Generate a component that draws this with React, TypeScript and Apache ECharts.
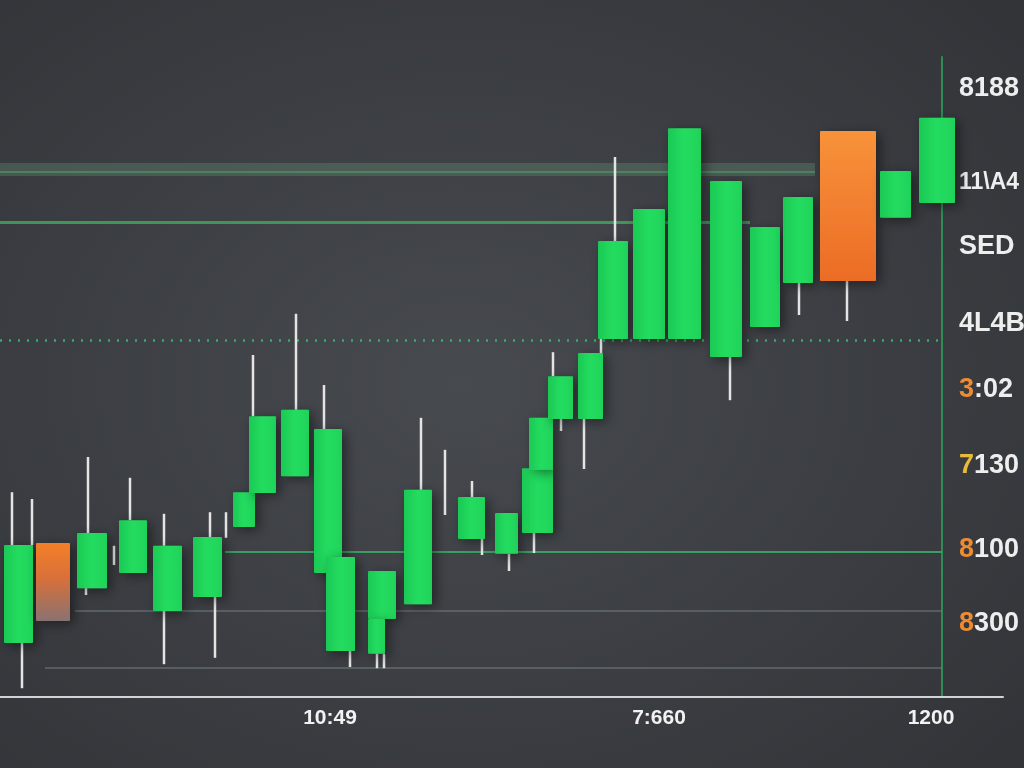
import React, { useEffect, useRef } from "react";
import * as echarts from "echarts";

// Candle bodies: [timeStart, timeEnd, open, close]
const candleBodies: number[][] = [
  [4, 33, 135, 380],
  [36, 70, 385, 190],
  [77, 107, 272, 410],
  [119, 147, 310, 442],
  [153, 182, 215, 378],
  [193, 222, 250, 400],
  [233, 255, 425, 512],
  [249, 276, 510, 702],
  [281, 309, 552, 718],
  [314, 342, 310, 670],
  [326, 355, 115, 350],
  [368, 396, 195, 315],
  [368, 385, 108, 195],
  [404, 432, 232, 518],
  [458, 485, 395, 500],
  [495, 518, 358, 460],
  [522, 553, 410, 572],
  [529, 553, 568, 698],
  [548, 573, 695, 802],
  [578, 603, 695, 860],
  [598, 628, 895, 1140],
  [633, 665, 895, 1220],
  [668, 701, 895, 1422],
  [710, 742, 850, 1290],
  [750, 780, 925, 1175],
  [783, 813, 1035, 1250],
  [820, 876, 1415, 1040],
  [880, 911, 1198, 1315],
  [919, 955, 1235, 1448],
];

// Wicks: [time, low, high]
const candleWicks: number[][] = [
  [12, 380, 512], [32, 380, 495], [22, 22, 135], [88, 410, 600], [86, 255, 272],
  [114, 330, 378], [130, 442, 548], [164, 378, 458], [164, 82, 215], [210, 400, 462],
  [215, 98, 250], [226, 398, 462], [253, 702, 855], [296, 718, 958], [324, 670, 780],
  [350, 75, 115], [377, 72, 108], [384, 72, 108], [421, 518, 698], [445, 455, 618],
  [472, 500, 540], [482, 355, 395], [509, 315, 358], [534, 360, 410], [553, 802, 862],
  [561, 665, 695], [584, 570, 695], [615, 1140, 1350], [601, 860, 895], [730, 742, 850],
  [799, 955, 1035], [847, 940, 1040],
];

// Index of the candle whose fill fades out
const fadedCandles = [1];

// Reference levels: [level, fromTime, toTime]
const glowLevel = [1320, 0, 815];
const glowEdgeLevel = [1312, 0, 815];
const greenLevel = [1188, 0, 750];
const dottedLevel = [892, 0, 942];
const supportLevel = [362, 225, 942];
const greyLevels = [
  [215, 75, 942],
  [72, 45, 942],
];

const yTickValues = [1525, 1290, 1130, 938, 772, 582, 372, 188];
const yTickTexts = ["8188", "11\\A4", "SED", "4L4B", "3:02", "7130", "8100", "8300"];
const yTickAccent = ["", "s", "", "", "o", "y", "o", "o"];

const xTickValues = [330, 659, 931];
const xTickTexts = ["10:49", "7:660", "1200"];

const FONT = "'Liberation Sans', Arial, sans-serif";

function seg(l: number[], lineStyle: any) {
  return [
    { coord: [l[1], l[0]], lineStyle },
    { coord: [l[2], l[0]] },
  ];
}

export default function App() {
  const ref = useRef<HTMLDivElement>(null);

  useEffect(() => {
    if (!ref.current) return;
    const chart = echarts.init(ref.current, null, { renderer: "svg" });

    const greenFill = new echarts.graphic.LinearGradient(0, 0, 1, 0, [
      { offset: 0, color: "#1dc955" },
      { offset: 0.5, color: "#22dc5f" },
      { offset: 1, color: "#1fd35a" },
    ]);
    const orangeFill = new echarts.graphic.LinearGradient(0, 0, 0, 1, [
      { offset: 0, color: "#f8923a" },
      { offset: 1, color: "#ec6c26" },
    ]);
    const fadedFill = new echarts.graphic.LinearGradient(0, 0, 0, 1, [
      { offset: 0, color: "#f57f27" },
      { offset: 0.45, color: "#d8703a" },
      { offset: 1, color: "#8a7272" },
    ]);

    const option: any = {
      animation: false,
      backgroundColor: {
        type: "radial",
        x: 0.45,
        y: 0.5,
        r: 0.85,
        colorStops: [
          { offset: 0, color: "#474a4f" },
          { offset: 1, color: "#2e3034" },
        ],
      },
      grid: { left: 0, right: 21, top: 57, bottom: 71, containLabel: false, outerBoundsMode: "none" },
      xAxis: {
        type: "value",
        min: 0,
        max: 1003,
        axisLine: { show: true, onZero: false, lineStyle: { color: "#d2d3d5", width: 2 } },
        axisTick: { show: false },
        splitLine: { show: false },
        axisLabel: {
          customValues: xTickValues,
          formatter: (v: number) => {
            const i = xTickValues.findIndex((t) => Math.abs(t - v) < 0.01);
            return i >= 0 ? xTickTexts[i] : "";
          },
          color: "#f2f2f2",
          fontSize: 21,
          fontWeight: "bold",
          fontFamily: FONT,
          margin: 9,
        },
      },
      yAxis: {
        type: "value",
        position: "right",
        offset: -61,
        min: 0,
        max: 1600,
        axisLine: { show: true, onZero: false, lineStyle: { color: "#2f8c55", width: 2 } },
        axisTick: { show: false },
        splitLine: { show: false },
        axisLabel: {
          customValues: yTickValues,
          formatter: (v: number) => {
            const i = yTickValues.findIndex((t) => Math.abs(t - v) < 0.01);
            if (i < 0) return "";
            const s = yTickTexts[i];
            const a = yTickAccent[i];
            if (!a) return "{w|" + s + "}";
            if (a === "s") return "{s|" + s + "}";
            return "{" + a + "|" + s[0] + "}{w|" + s.slice(1) + "}";
          },
          margin: 17,
          align: "left",
          rich: {
            w: { color: "#eeeeee", fontSize: 27, fontWeight: "bold", fontFamily: FONT },
            s: { color: "#eeeeee", fontSize: 23, fontWeight: "bold", fontFamily: FONT },
            o: { color: "#f08a2e", fontSize: 27, fontWeight: "bold", fontFamily: FONT },
            y: { color: "#e6bb3a", fontSize: 27, fontWeight: "bold", fontFamily: FONT },
          },
        },
      },
      series: [
        {
          type: "line",
          data: [],
          z: 1,
          markLine: {
            silent: true,
            z: 1,
            symbol: ["none", "none"],
            label: { show: false },
            emphasis: { disabled: true },
            data: [
              seg(glowLevel, { color: "rgba(95,135,110,0.4)", width: 13, type: "solid" }),
              seg(glowEdgeLevel, { color: "rgba(80,170,110,0.5)", width: 2, type: "solid" }),
              seg(greenLevel, { color: "rgba(64,160,92,0.9)", width: 3, type: "solid" }),
              seg(dottedLevel, { color: "#2fb35e", width: 2.5, type: [2, 7] }),
              seg(supportLevel, { color: "#3a9d62", width: 2, type: "solid" }),
              ...greyLevels.map((l) => seg(l, { color: "rgba(115,120,125,0.55)", width: 2, type: "solid" })),
            ],
          },
        },
        {
          type: "custom",
          z: 2,
          clip: false,
          data: candleWicks,
          renderItem: (params: any, api: any) => {
            const x = api.value(0);
            const p0 = api.coord([x, api.value(1)]);
            const p1 = api.coord([x, api.value(2)]);
            return {
              type: "line",
              shape: { x1: p0[0], y1: p0[1], x2: p1[0], y2: p1[1] },
              style: { stroke: "#e4e4e4", lineWidth: 2.5 },
            };
          },
        },
        {
          type: "custom",
          z: 3,
          clip: false,
          data: candleBodies,
          renderItem: (params: any, api: any) => {
            const x0 = api.value(0);
            const x1 = api.value(1);
            const o = api.value(2);
            const c = api.value(3);
            const pTop = api.coord([x0, Math.max(o, c)]);
            const pBot = api.coord([x1, Math.min(o, c)]);
            const up = c >= o;
            const fill = up ? greenFill : fadedCandles.includes(params.dataIndex) ? fadedFill : orangeFill;
            return {
              type: "rect",
              shape: { x: pTop[0], y: pTop[1], width: pBot[0] - pTop[0], height: pBot[1] - pTop[1], r: 1 },
              style: {
                fill,
                shadowBlur: 12,
                shadowColor: "rgba(0,0,0,0.45)",
                shadowOffsetX: 4,
                shadowOffsetY: 3,
              },
            };
          },
        },
      ],
    };

    chart.setOption(option);
    return () => chart.dispose();
  }, []);

  return (
    <div
      ref={ref}
      style={{ position: "fixed", left: 0, top: 0, width: 1024, height: 768 }}
    />
  );
}
